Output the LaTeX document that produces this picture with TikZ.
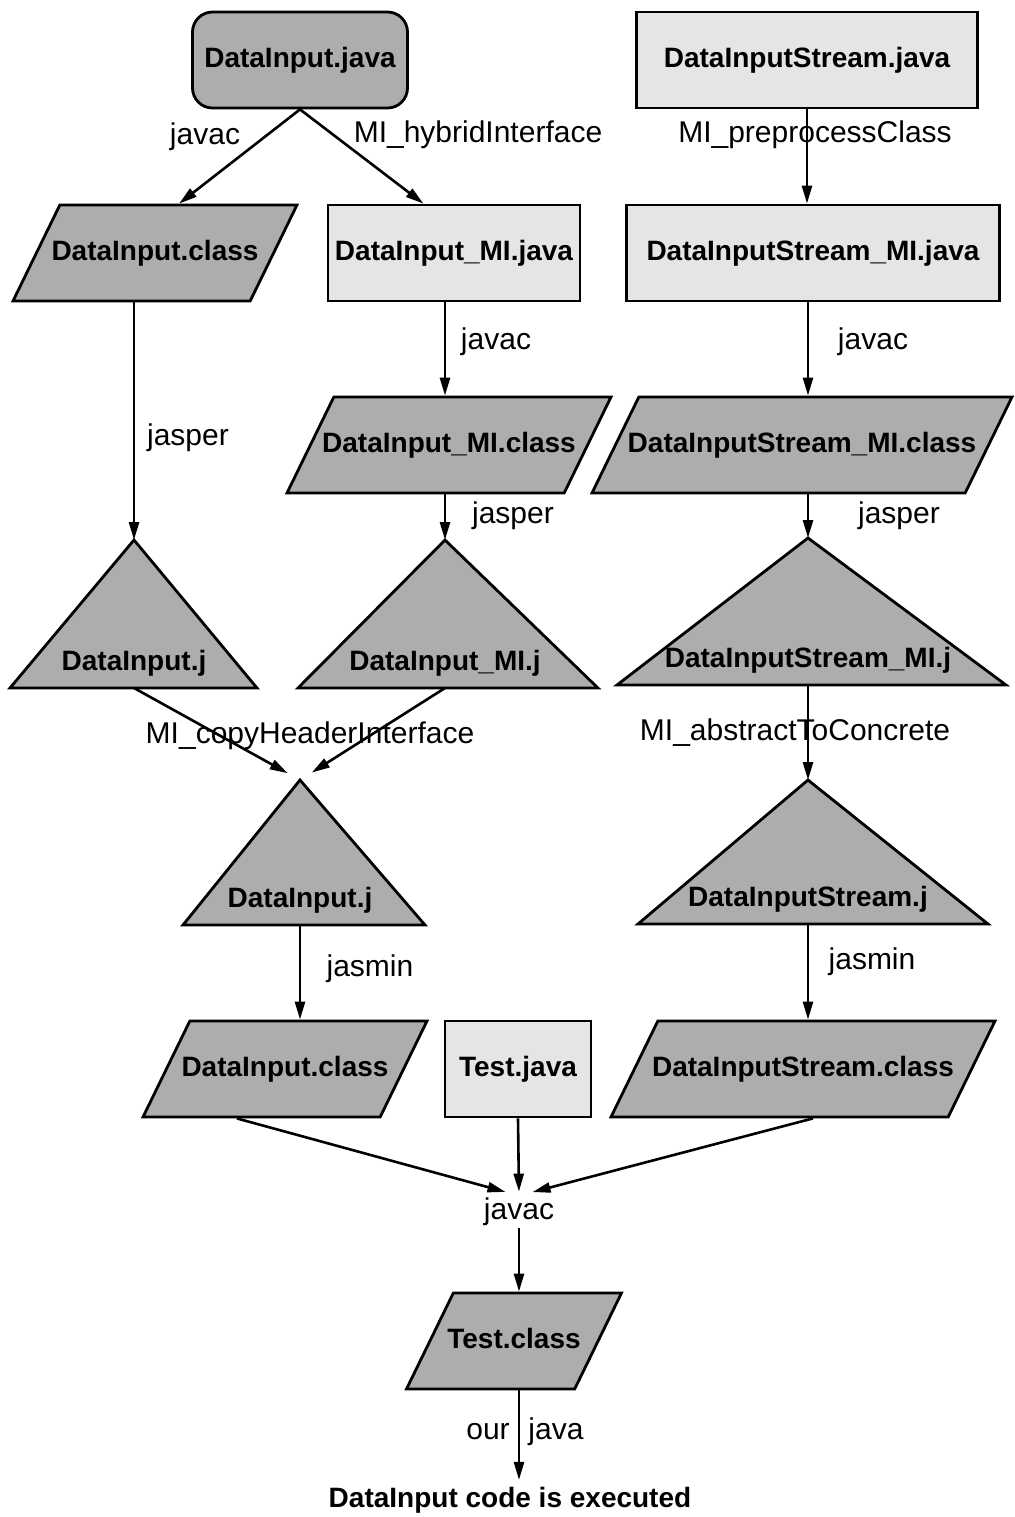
\documentclass[tikz,border=0pt]{standalone}
\usepackage{fontspec}
\setmainfont{Liberation Sans}
\usetikzlibrary{arrows.meta,positioning,shapes.geometric,calc}
\definecolor{darkfill}{gray}{0.68}
\definecolor{lightfill}{gray}{0.9}

\begin{document}
\begin{tikzpicture}[x=0.5pt,y=-0.5pt,
  nodefont/.style={font=\bfseries\fontsize{14}{16}\selectfont},
  lbl/.style={font=\fontsize{15}{17}\selectfont,inner sep=1pt},
  box/.style={draw,line width=1.4pt,fill=lightfill,minimum height=48pt,nodefont},
  srcbox/.style={box,fill=darkfill,rounded corners=10pt},
  para/.style={trapezium,trapezium left angle=64,trapezium right angle=116,trapezium stretches body,
    draw,line width=1.4pt,fill=darkfill,text height=10pt,text depth=3pt,inner ysep=17.5pt,
    inner xsep=-12pt,nodefont},
  tribox/.style={draw,line width=1.4pt,fill=darkfill,line join=miter},
  arr/.style={-{Triangle[length=9pt,width=5pt]},line width=1.3pt}]
\useasboundingbox (0,0) rectangle (1015,1517);
% sources
\node[srcbox,minimum width=107.5pt] (dij) at (300,60) {DataInput.java};
\node[box,minimum width=170.5pt] (disj) at (807,60) {DataInputStream.java};
% generated files
\node[para,minimum width=142pt] (dicA) at (155,253) {DataInput.class};
\node[box,minimum width=126pt] (dimij) at (454,253) {DataInput\_MI.java};
\node[box,minimum width=186.5pt] (dismij) at (813,253) {DataInputStream\_MI.java};
\node[para,minimum width=162pt] (dimic) at (449,445) {DataInput\_MI.class};
\node[para,minimum width=210pt] (dismic) at (802,445) {DataInputStream\_MI.class};
% jasper output
\foreach \n/\ax/\ay/\bl/\br/\by/\txt in {
  triA/134/540/10/257/688/DataInput.j,
  triB/445/540/298/598/688/DataInput\_MI.j,
  triC/808/538/617/1006/685/DataInputStream\_MI.j,
  triD/300/780/183/425/925/DataInput.j,
  triE/808/780/638/988/924/DataInputStream.j}{
  \draw[tribox] (\ax,\ay) coordinate (\n-top) -- (\br,\by) -- (\bl,\by) -- cycle;
  \coordinate (\n-bot) at (\ax,\by);
  \node[nodefont] (\n) at (\ax,\by-25) {\txt};
}
% final classes
\node[para,minimum width=142pt] (dicB) at (285,1069) {DataInput.class};
\node[box,minimum width=73pt] (testj) at (518,1069) {Test.java};
\node[para,minimum width=192pt] (disc) at (803,1069) {DataInputStream.class};
\node[lbl] (jvc) at (519,1212) {javac};
\node[para,minimum width=107.5pt] (testc) at (514,1341) {Test.class};
\node[nodefont] (done) at (510,1500) {DataInput code is executed};
% connectors
\draw[arr] (dij.south) -- ($(dicA.top left corner)!.5!(dicA.top right corner)$);
\draw[arr] (dij.south) -- ($(dimij.north west)!.38!(dimij.north east)$);
\draw[arr] (disj.south) -- (disj.south |- dismij.north);
\draw[arr] (triA-top |- dicA.south) -- (triA-top);
\draw[arr] (triB-top |- dimij.south) -- (triB-top |- dimic.north);
\draw[arr] (triC-top |- dismij.south) -- (triC-top |- dismic.north);
\draw[arr] (triB-top |- dimic.south) -- (triB-top);
\draw[arr] (triC-top |- dismic.south) -- (triC-top);
\draw[arr,shorten >=7pt] (triA-bot) -- (triD-top);
\draw[arr,shorten >=7pt] (triB-bot) -- (triD-top);
\draw[arr] (triC-bot) -- (triE-top);
\draw[arr] (triD-bot) -- (triD-bot |- dicB.north);
\draw[arr] (triE-bot) -- (triE-bot |- disc.north);
\draw[arr,shorten >=7pt] ($(dicB.bottom left corner)!.4!(dicB.bottom right corner)$) -- (jvc.north);
\draw[arr,shorten >=2pt] (testj.south) -- (jvc.north);
\draw[arr,shorten >=7pt] ($(disc.bottom left corner)!.6!(disc.bottom right corner)$) -- (jvc.north);
\draw[arr] (jvc.south) -- (jvc.south |- testc.north);
\draw[arr] (jvc.south |- testc.south) -- (jvc.south |- done.north);
% labels
\node[lbl] (lj1) at (205,137) {javac};
\node[lbl] (lhyb) at (478,135) {MI\_hybridInterface};
\node[lbl] (lpre) at (815,135) {MI\_preprocessClass};
\node[lbl] (ljs1) at (188,438) {jasper};
\node[lbl] (lj2) at (496,342) {javac};
\node[lbl] (lj3) at (873,342) {javac};
\node[lbl] (ljs2) at (513,516) {jasper};
\node[lbl] (ljs3) at (899,516) {jasper};
\node[lbl] (lcopy) at (310,736) {MI\_copyHeaderInterface};
\node[lbl] (labs) at (795,733) {MI\_abstractToConcrete};
\node[lbl] (ljm1) at (370,969) {jasmin};
\node[lbl] (ljm2) at (872,962) {jasmin};
\node[lbl] (lour) at (488,1432) {our};
\node[lbl] (ljava) at (556,1432) {java};
\end{tikzpicture}
\end{document}
